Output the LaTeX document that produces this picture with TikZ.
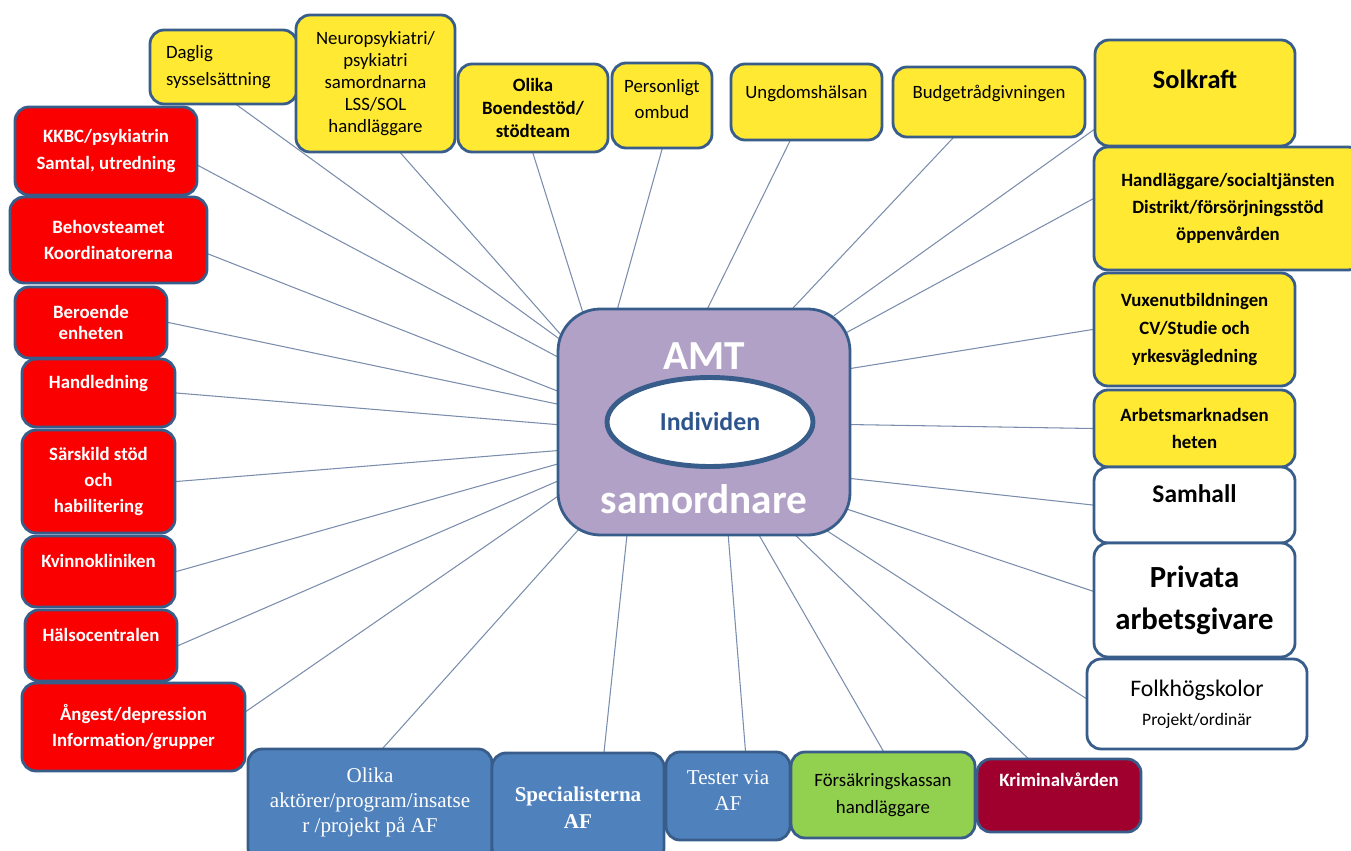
\documentclass[tikz,border=0pt]{standalone}
\usepackage{fontspec}
\setmainfont{Carlito}
\newfontfamily\afserif{Liberation Serif}
\usetikzlibrary{positioning, shapes.geometric, backgrounds}
\definecolor{amtborder}{RGB}{56,93,138}
\definecolor{amtyellow}{RGB}{255,233,50}
\definecolor{amtred}{RGB}{250,0,0}
\definecolor{amtblue}{RGB}{79,129,189}
\definecolor{amtgreen}{RGB}{146,208,80}
\definecolor{amtwine}{RGB}{160,0,45}
\definecolor{amtpurple}{RGB}{178,161,199}
\definecolor{amtlink}{RGB}{122,141,172}
\definecolor{amtindigo}{RGB}{46,84,140}
\newcommand{\fsz}[2]{\fontsize{#1}{#2}\selectfont}

\begin{document}
\begin{tikzpicture}[x=0.02cm, y=-0.02cm,
  wh/.style 2 args={minimum width=#1*0.02cm, minimum height=#2*0.02cm},
  box/.style={draw=amtborder, line width=1.6pt, rounded corners=0.28cm,
              align=center, inner sep=1pt, font=\fsz{10.7}{15}},
  ybox/.style={box, fill=amtyellow},
  wbox/.style={box, fill=white},
  rbox/.style={box, fill=amtred, text=white, font=\fsz{10.7}{15}\bfseries},
  bbox/.style={box, fill=amtblue, text=white, font=\afserif\fsz{12}{14.2}},
  link/.style={draw=amtlink, line width=0.6pt, shorten >=-8pt, shorten <=-4pt}]
  \useasboundingbox (0,0) rectangle (1351,851);

  % Centre
  \node[draw=amtborder, line width=1.6pt, fill=amtpurple, rounded corners=0.85cm,
        wh={292}{226}] (amt) at (704,422) {};
  \node[text=white, font=\fsz{23.5}{28}\bfseries] (amtlbl) at (704,356) {AMT};
  \node[text=white, font=\fsz{23.5}{28}\bfseries] (samlbl) at (704,499) {samordnare};
  \node[ellipse, draw=amtborder, line width=2.8pt, fill=white, wh={206}{89},
        text=amtindigo, font=\fsz{14.7}{17}\bfseries] (ind) at (710,422) {Individen};

  % Top row
  \node[ybox, wh={147}{74}, align=left, text width=2.3cm] (dag) at (223.5,67) {Daglig\\sysselsättning};
  \node[ybox, wh={159}{137}, font=\fsz{10.7}{12.5}] (neu) at (375.5,83.5)
    {Neuropsykiatri/\\psykiatri\\samordnarna\\LSS/SOL\\handläggare};
  \node[ybox, wh={150}{88}, font=\fsz{10.7}{13}\bfseries] (boe) at (533,108) {Olika\\Boendestöd/\\stödteam};
  \node[ybox, wh={100}{85}, font=\fsz{10.7}{14.7}] (per) at (662,105.5) {Personligt\\ombud\\[-7pt]\mbox{}};
  \node[ybox, wh={151}{76}, text depth=11.4pt] (ung) at (806.5,102) {Ungdomshälsan};
  \node[ybox, wh={192}{70}, text depth=11.4pt] (bud) at (989,102) {Budgetrådgivningen};
  \node[ybox, wh={200}{106}, font=\fsz{15}{18}\bfseries, text depth=15.7pt] (sol) at (1195,93) {Solkraft};

  % Right column
  \node[ybox, wh={268}{123}, font=\fsz{10.7}{15.3}\bfseries] (han) at (1228,208.5)
    {Handläggare/socialtjänsten\\Distrikt/försörjningsstöd\\öppenvården};
  \node[ybox, wh={201}{113}, font=\fsz{10.7}{16}\bfseries] (vux) at (1194.5,329.5)
    {Vuxenutbildningen\\CV/Studie och\\yrkesvägledning};
  \node[ybox, wh={201}{77}, font=\fsz{10.7}{15.3}\bfseries] (arb) at (1194.5,428.5) {Arbetsmarknadsen\\heten};
  \node[wbox, wh={201}{76}, font=\fsz{14.5}{17}\bfseries, text depth=13.4pt] (sam) at (1194.5,505) {Samhall};
  \node[wbox, wh={201}{114}, font=\fsz{17.5}{23.8}\bfseries] (pri) at (1194.5,600) {Privata\\arbetsgivare};
  \node[wbox, wh={220}{90}, font=\fsz{13.5}{16.3}] (fol) at (1197,704)
    {Folkhögskolor\\{\fsz{10}{12}Projekt/ordinär}};

  % Left column
  \node[rbox, wh={182}{88}, font=\fsz{10.7}{15.9}\bfseries] (kkb) at (106,151) {KKBC/psykiatrin\\Samtal, utredning};
  \node[rbox, wh={197}{86}, font=\fsz{10.7}{14.7}\bfseries] (beh) at (108.5,240) {Behovsteamet\\Koordinatorerna};
  \node[rbox, wh={152}{71}, font=\fsz{10.7}{12}\bfseries] (ber) at (91,322.5) {Beroende\\enheten};
  \node[rbox, wh={153}{68}, text depth=12.6pt] (hle) at (98.5,393) {Handledning};
  \node[rbox, wh={153}{103}, font=\fsz{10.7}{15}\bfseries] (sar) at (98.5,481.5) {Särskild stöd\\och\\habilitering};
  \node[rbox, wh={153}{71}, text depth=12pt] (kvi) at (98.5,571.5) {Kvinnokliniken};
  \node[rbox, wh={152}{71}, text depth=12pt] (hal) at (101,645.5) {Hälsocentralen};
  \node[rbox, wh={223}{88}, font=\fsz{10.7}{15.3}\bfseries] (ang) at (133.5,727) {Ångest/depression\\Information/grupper};

  % Bottom row
  \node[bbox, wh={244}{113}] (ola) at (370,805.5) {Olika\\aktörer/program/insatse\\r /projekt på AF\\[-8pt]\mbox{}};
  \node[bbox, wh={172}{109}, font=\afserif\fsz{12}{15.3}\bfseries] (spe) at (578,807.5) {Specialisterna\\AF};
  \node[bbox, wh={124}{88}, font=\afserif\fsz{12}{15.3}] (tes) at (728,796) {Tester via\\AF\\[-9pt]\mbox{}};
  \node[box, fill=amtgreen, wh={184}{86}, font=\fsz{10.7}{15.3}] (for) at (883,795) {Försäkringskassan\\handläggare};
  \node[rbox, fill=amtwine, wh={164}{73}, text depth=17.7pt] (kri) at (1059,795.5) {Kriminalvården};

  % Spokes
  \begin{scope}[on background layer]
    \draw[link] (dag.-70) -- (amt.150);
    \draw[link] (neu.-70) -- (amt.148);
    \draw[link] (boe.south) -- (amt.137);
    \draw[link] (per.south) -- (amt.127);
    \draw[link] (ung.-113) -- (amt.88);
    \draw[link] (bud.-135) -- (amt.52);
    \draw[link] (sol.200) -- (amt.39);
    \draw[link] (han.176) -- (amt.32);
    \draw[link] (vux.west) -- (amt.20);
    \draw[link] (arb.west) -- (amt.-1);
    \draw[link] (sam.west) -- (amt.-21);
    \draw[link] (pri.175) -- (amt.-31);
    \draw[link] (fol.177) -- (amt.-41);
    \draw[link] (kri.130) -- (amt.-51);
    \draw[link] (for.north) -- (amt.-64);
    \draw[link] (tes.69) -- (amt.-78);
    \draw[link] (spe.65) -- (amt.-124);
    \draw[link] (ola.77) -- (amt.-139);
    \draw[link] (ang.8) -- (amt.-153);
    \draw[link] (hal.east) -- (amt.-158);
    \draw[link] (kvi.east) -- (amt.-164);
    \draw[link] (sar.east) -- (amt.-169.5);
    \draw[link] (hle.east) -- (amt.181);
    \draw[link] (ber.east) -- (amt.173.7);
    \draw[link] (beh.-8) -- (amt.168);
    \draw[link] (kkb.-9) -- (amt.156);
  \end{scope}
\end{tikzpicture}
\end{document}
